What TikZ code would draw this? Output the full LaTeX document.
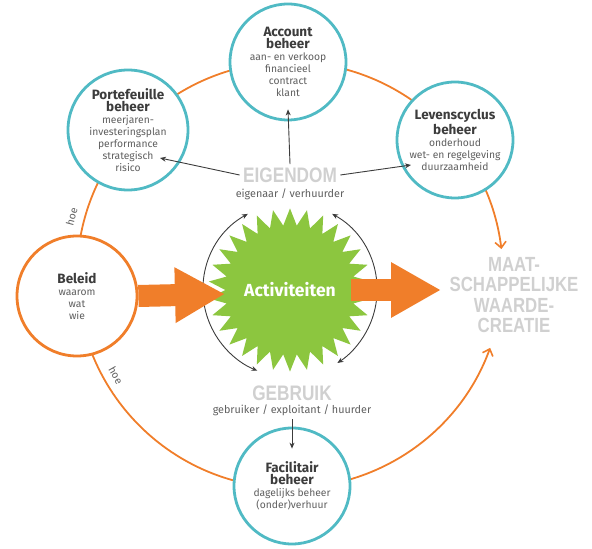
\documentclass[tikz,border=0pt]{standalone}
\usepackage{fontspec}
\setmainfont{Fira Sans}
\newfontfamily\capsfont[FakeStretch=0.82]{Liberation Sans}
\usetikzlibrary{shapes.geometric,arrows.meta}

\definecolor{beheerteal}{RGB}{80,186,196}
\definecolor{oranje}{RGB}{240,126,42}
\definecolor{actgroen}{RGB}{140,198,63}
\definecolor{titelgrijs}{RGB}{60,60,60}
\definecolor{ondergrijs}{RGB}{95,95,95}
\definecolor{capsgrijs}{RGB}{208,208,208}

\newcommand\titel{\bfseries\fontsize{13.5}{15}\selectfont\color{titelgrijs}}
\newcommand\onder{\mdseries\fontsize{10.3}{12}\selectfont\color{ondergrijs}}

\begin{document}
\begin{tikzpicture}[x=1pt,y=1pt,
    beheer/.style={circle, draw=beheerteal, line width=2.8pt, fill=white, minimum size=116pt, inner sep=0pt, align=center},
    ring/.style={draw=oranje, line width=1.8pt},
    ringpijl/.style={ring, -{Straight Barb[length=6pt,width=11pt,line width=1.6pt]}},
    pijl/.style={draw=titelgrijs, line width=0.9pt, -{Stealth[length=6pt,width=5pt]}},
    dikkepijl/.style={draw=oranje, line width=22pt, -{Triangle[width=52pt,length=50pt]}},
    kop/.style={font=\capsfont\bfseries\fontsize{21}{21}\selectfont, text=capsgrijs},
    rol/.style={font=\fontsize{10.8}{12}\selectfont, text=ondergrijs},
    hoe/.style={font=\fontsize{10.5}{11}\selectfont, text=ondergrijs, inner sep=1pt}]
  \useasboundingbox (0,0) rectangle (592,549);

  \coordinate (c) at (290,274);
  \draw[ringpijl] ([shift={(90:213pt)}]c) arc[start angle=90, end angle=7, radius=213pt];
  \draw[ringpijl] ([shift={(90:213pt)}]c) arc[start angle=90, end angle=340, radius=213pt];
  \node[hoe, rotate=75] (hoe1) at ([shift={(165:226pt)}]c) {hoe};
  \node[hoe, rotate=-60] (hoe2) at ([shift={(210:201pt)}]c) {hoe};

  \node[beheer] (acc) at (288,487) {\titel Account\\\titel beheer\\\onder aan- en verkoop\\\onder financieel\\\onder contract\\\onder klant};
  \node[beheer, minimum size=120pt] (pf) at (128,419) {\titel Portefeuille\\\titel beheer\\\onder meerjaren-\\\onder investeringsplan\\\onder performance\\\onder strategisch\\\onder risico};
  \node[beheer] (lc) at (455,409) {\titel Levenscyclus\\\titel beheer\\\onder onderhoud\\\onder wet- en regelgeving\\\onder duurzaamheid};
  \node[beheer] (fb) at (292,63) {\titel Facilitair\\\titel beheer\\\onder dagelijks beheer\\\onder (onder)verhuur};
  \node[beheer, draw=oranje, minimum size=120pt] (bl) at (77,253) {\titel Beleid\\\onder waarom\\\onder wat\\\onder wie};

  \node[star, star points=30, star point ratio=1.26, fill=actgroen, minimum size=150pt, inner sep=0pt,
    text=white, font=\bfseries\fontsize{17.5}{20}\selectfont] (act) at (290,259) {Activiteiten};
  \draw[pijl, {Stealth[length=6pt,width=5pt]}-{Stealth[length=6pt,width=5pt]}] ([shift={(119:87pt)}]act.center) arc[start angle=119, end angle=248, radius=87pt];
  \draw[pijl, {Stealth[length=6pt,width=5pt]}-{Stealth[length=6pt,width=5pt]}] ([shift={(61:87pt)}]act.center) arc[start angle=61, end angle=-57, radius=87pt];

  \coordinate (links) at (225,255);
  \coordinate (rechts) at (441,259);
  \draw[dikkepijl] (bl.east) -- (links);
  \draw[dikkepijl] (351,259) -- (rechts);

  \node[kop] (eig) at (290,374) {EIGENDOM};
  \node[rol] (eigrol) at (290,355) {eigenaar / verhuurder};
  \node[kop] (geb) at (292,156) {GEBRUIK};
  \node[rol] (gebrol) at (292,139) {gebruiker / exploitant / huurder};
  \node[kop, align=center, font=\capsfont\bfseries\fontsize{20.5}{20.5}\selectfont] (mwc) at (514,254) {MAAT-\\SCHAPPELIJKE\\WAARDE-\\CREATIE};

  \coordinate (pfin) at (160,391);
  \coordinate (lcin) at (411,384);
  \draw[pijl] (eig.north) -- ([yshift=12pt]acc.south);
  \draw[pijl] (eig.west) -- (pfin);
  \draw[pijl] (eig.east) -- (lcin);
  \draw[pijl] (gebrol.south) -- ([yshift=-22pt]fb.north);
\end{tikzpicture}
\end{document}
